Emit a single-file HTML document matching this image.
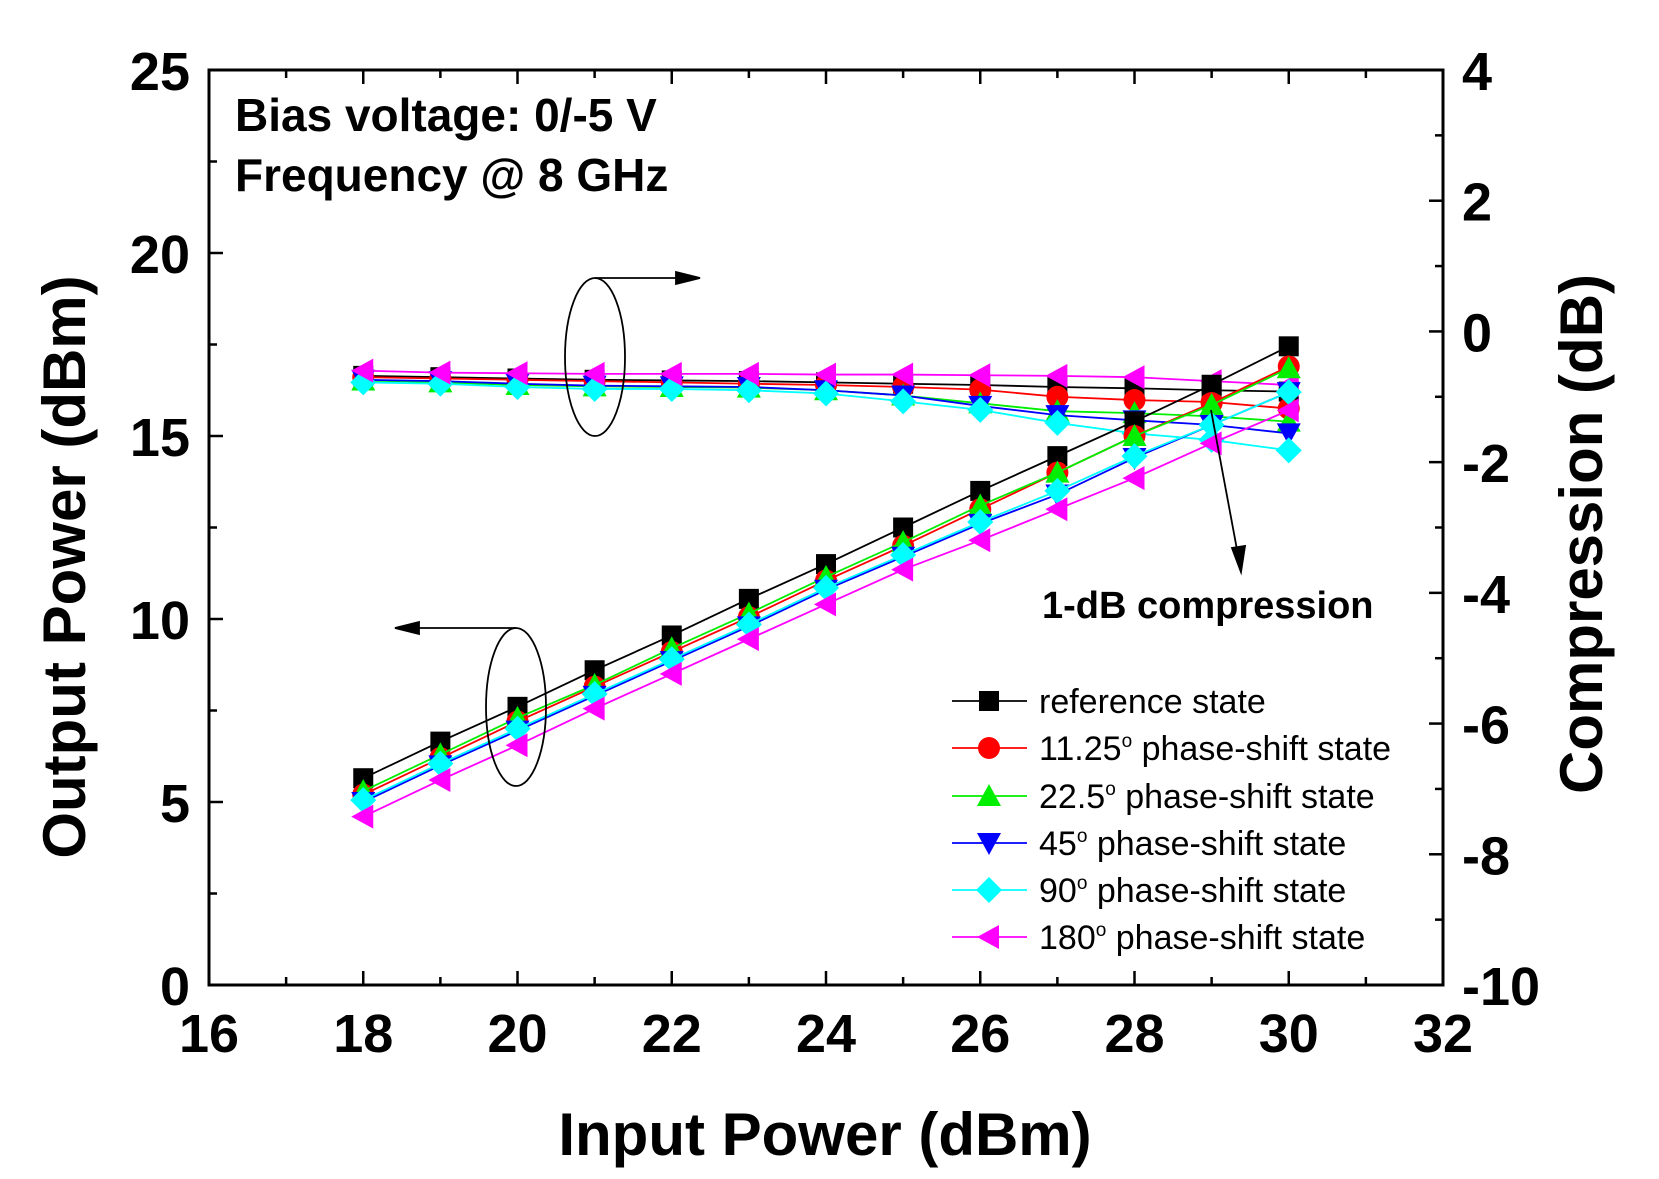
<!DOCTYPE html>
<html><head><meta charset="utf-8"><style>
body{margin:0;background:#fff;}
svg{display:block;font-family:"Liberation Sans",sans-serif;}
</style></head><body>
<svg id="chart" width="1659" height="1179">
<text x="235" y="131" font-size="46" font-weight="bold">Bias voltage: 0/-5 V</text>
<text x="235" y="191" font-size="46" font-weight="bold">Frequency @ 8 GHz</text>
<text x="1042" y="618" font-size="38" font-weight="bold">1-dB compression</text>
<text x="825" y="1155" font-size="60" font-weight="bold" text-anchor="middle">Input Power (dBm)</text>
<text transform="translate(85,567) rotate(-90)" font-size="60" font-weight="bold" text-anchor="middle">Output Power (dBm)</text>
<text transform="translate(1602,534) rotate(-90)" font-size="60" font-weight="bold" text-anchor="middle">Compression (dB)</text>
</svg>
<script>
const xTicks=[16,18,20,22,24,26,28,30,32];
const yLeftTicks=[0,5,10,15,20,25];
const yRightTicks=[-10,-8,-6,-4,-2,0,2,4];
const inputPower=[18,19,20,21,22,23,24,25,26,27,28,29,30];
const seriesNames=['reference state','11.25° phase-shift state','22.5° phase-shift state','45° phase-shift state','90° phase-shift state','180° phase-shift state'];
const outRef=[5.65,6.65,7.6,8.6,9.55,10.55,11.5,12.5,13.5,14.45,15.4,16.4,17.45];
const out1125=[5.2,6.2,7.2,8.15,9.1,10.05,11.05,12.0,13.0,14.0,15.0,15.9,16.9];
const out225=[5.3,6.3,7.3,8.2,9.2,10.15,11.15,12.1,13.1,14.0,15.0,15.85,16.85];
const out45=[5.0,6.0,6.95,7.9,8.85,9.8,10.8,11.7,12.6,13.4,14.4,15.3,16.2];
const out90=[5.05,6.05,7.0,7.95,8.9,9.85,10.85,11.75,12.65,13.5,14.45,15.3,16.2];
const out180=[4.6,5.6,6.55,7.55,8.5,9.45,10.4,11.35,12.15,13.0,13.85,14.8,15.7];
const compRef=[-0.68,-0.7,-0.72,-0.74,-0.75,-0.76,-0.78,-0.8,-0.82,-0.85,-0.87,-0.9,-0.92];
const comp1125=[-0.7,-0.72,-0.74,-0.76,-0.78,-0.8,-0.82,-0.85,-0.89,-1.0,-1.05,-1.08,-1.18];
const comp225=[-0.75,-0.78,-0.82,-0.84,-0.85,-0.86,-0.9,-0.98,-1.1,-1.22,-1.25,-1.3,-1.38];
const comp45=[-0.74,-0.76,-0.8,-0.83,-0.84,-0.85,-0.9,-0.98,-1.14,-1.28,-1.36,-1.43,-1.56];
const comp90=[-0.78,-0.8,-0.85,-0.88,-0.88,-0.9,-0.95,-1.07,-1.2,-1.4,-1.56,-1.66,-1.82];
const comp180=[-0.6,-0.63,-0.64,-0.65,-0.65,-0.65,-0.66,-0.66,-0.67,-0.68,-0.7,-0.76,-0.82];
const colors=['#000000','#ff0000','#00ee00','#0000ff','#00ffff','#ff00ff'];
const markers=['square','circle','triangle','tridown','diamond','triLeft'];

const X0=209,X1=1443,Y0=985,Y1=70;
const sx=v=>X0+(v-16)/(32-16)*(X1-X0);
const syL=v=>Y0-(v-0)/25*(Y0-Y1);
const syR=v=>Y0-(v+10)/14*(Y0-Y1);
const svg=document.getElementById('chart');
const NS='http://www.w3.org/2000/svg';
function mk(tag,attrs,parent){const e=document.createElementNS(NS,tag);for(const k in attrs)e.setAttribute(k,attrs[k]);(parent||svg).appendChild(e);return e;}

const frame=mk('rect',{x:X0,y:Y1,width:X1-X0,height:Y0-Y1,fill:'none',stroke:'#000','stroke-width':3});


for(let v=16;v<=32;v++){const major=v%2===0,l=major?14:8;
 mk('line',{x1:sx(v),x2:sx(v),y1:Y0,y2:Y0-l,stroke:'#000','stroke-width':2.5});
 mk('line',{x1:sx(v),x2:sx(v),y1:Y1,y2:Y1+l,stroke:'#000','stroke-width':2.5});}
xTicks.forEach(v=>{const t=mk('text',{x:sx(v),y:1052,'font-size':54,'font-weight':'bold','text-anchor':'middle'});t.textContent=v;
 
 });
for(let v=0;v<=25;v+=2.5){const l=(v%5===0)?14:8;mk('line',{x1:X0,x2:X0+l,y1:syL(v),y2:syL(v),stroke:'#000','stroke-width':2.5});}
yLeftTicks.forEach(v=>{const t=mk('text',{x:190,y:syL(v)+20,'font-size':54,'font-weight':'bold','text-anchor':'end'});t.textContent=v;
 
 });
for(let v=-10;v<=4;v++){const l=(v%2===0)?14:8;mk('line',{x1:X1,x2:X1-l,y1:syR(v),y2:syR(v),stroke:'#000','stroke-width':2.5});}
yRightTicks.forEach(v=>{const t=mk('text',{x:1462,y:syR(v)+20,'font-size':54,'font-weight':'bold'});t.textContent=v;
 
 });

function marker(type,cx,cy,color,parent){const s=10;let e;
 if(type==='square')e=mk('rect',{x:cx-s,y:cy-s,width:2*s,height:2*s,fill:color},parent);
 else if(type==='circle')e=mk('circle',{cx:cx,cy:cy,r:s+1,fill:color},parent);
 else if(type==='triangle')e=mk('polygon',{points:`${cx},${cy-s-2} ${cx-s-2},${cy+s} ${cx+s+2},${cy+s}`,fill:color},parent);
 else if(type==='tridown')e=mk('polygon',{points:`${cx},${cy+s+2} ${cx-s-2},${cy-s} ${cx+s+2},${cy-s}`,fill:color},parent);
 else if(type==='diamond')e=mk('polygon',{points:`${cx},${cy-s-3} ${cx+s+3},${cy} ${cx},${cy+s+3} ${cx-s-3},${cy}`,fill:color},parent);
 else e=mk('polygon',{points:`${cx-s-2},${cy} ${cx+s},${cy-s-2} ${cx+s},${cy+s+2}`,fill:color},parent);
 return e;}

const outs=[outRef,out1125,out225,out45,out90,out180];
const comps=[compRef,comp1125,comp225,comp45,comp90,comp180];
function drawSeries(vals,sy,i,name){
 const g=mk('g',{});
 
 
 mk('polyline',{points:inputPower.map((x,k)=>sx(x)+','+sy(vals[k])).join(' '),fill:'none',stroke:colors[i],'stroke-width':1.8},g);
 inputPower.forEach((x,k)=>{const m=marker(markers[i],sx(x),sy(vals[k]),colors[i],g);
  
  });
}
for(let i=0;i<6;i++)drawSeries(comps[i],syR,i,'compression-series-'+i);
for(let i=0;i<6;i++)drawSeries(outs[i],syL,i,'output-series-'+i);

const ann=mk('g',{fill:'none',stroke:'#000','stroke-width':1.8});


mk('ellipse',{cx:595,cy:357,rx:30,ry:79},ann);
mk('line',{x1:595,y1:278,x2:685,y2:278},ann);
mk('polygon',{points:'700,278 676,272 676,284',fill:'#000'},ann);
mk('ellipse',{cx:516,cy:707,rx:30,ry:79},ann);
mk('line',{x1:516,y1:628,x2:410,y2:628},ann);
mk('polygon',{points:'395,628 419,622 419,634',fill:'#000'},ann);
mk('line',{x1:1211,y1:410,x2:1238,y2:555},ann);
mk('polygon',{points:'1241,572 1232,548 1245,546',fill:'#000'},ann);

const rows=[701,748,796,843,890,937];
const leg=mk('g',{});


seriesNames.forEach((n,i)=>{const y=rows[i];
 const g=mk('g',{},leg);
 
 
 mk('line',{x1:952,x2:1027,y1:y,y2:y,stroke:colors[i],'stroke-width':1.8},g);
 marker(markers[i],989,y,colors[i],g);
 const t=mk('text',{x:1039,y:y+12,'font-size':34},g);
 const parts=n.split('°');
 if(parts.length>1){t.appendChild(document.createTextNode(parts[0]));
  const ts=mk('tspan',{dy:-13,'font-size':19},t);ts.textContent='o';
  const ts2=mk('tspan',{dy:13},t);ts2.textContent=parts[1];}
 else t.textContent=n;});
</script>
</body></html>
